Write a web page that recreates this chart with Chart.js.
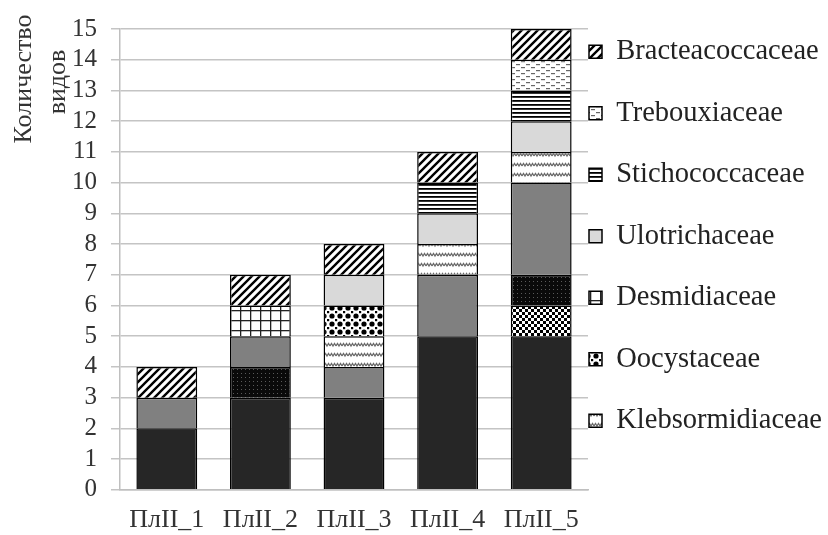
<!DOCTYPE html>
<html>
<head>
<meta charset="utf-8">
<script src="https://cdn.jsdelivr.net/npm/chart.js@4.4.1/dist/chart.umd.min.js"></script>
<style>
  html, body { margin: 0; padding: 0; background: #fff; }
  #wrap { width: 828px; height: 535px; }
</style>
</head>
<body>
<div id="wrap"><canvas id="c" width="828" height="535"></canvas></div>
<script>
// ---- Data ----
const categories = ['ПлII_1', 'ПлII_2', 'ПлII_3', 'ПлII_4', 'ПлII_5'];
const yTicks = [0,1,2,3,4,5,6,7,8,9,10,11,12,13,14,15];

// stacked bottom -> top
const chlamydomonadaceae = [2, 3, 3, 5, 5];   // dark (not shown in visible legend)
const chlorococcaceae    = [0, 0, 0, 0, 1];   // checker (not shown in visible legend)
const scenedesmaceae     = [0, 1, 0, 0, 1];   // dark dotted (not shown in visible legend)
const chlorellaceae      = [1, 1, 1, 2, 3];   // gray (not shown in visible legend)
const klebsormidiaceae   = [0, 0, 1, 1, 1];
const oocystaceae        = [0, 0, 1, 0, 0];
const desmidiaceae       = [0, 1, 0, 0, 0];
const ulotrichaceae      = [0, 0, 1, 1, 1];
const stichococcaceae    = [0, 0, 0, 1, 1];
const trebouxiaceae      = [0, 0, 0, 0, 1];
const bracteacoccaceae   = [1, 1, 1, 1, 1];

const visibleLegend = ['Bracteacoccaceae','Trebouxiaceae','Stichococcaceae','Ulotrichaceae','Desmidiaceae','Oocystaceae','Klebsormidiaceae'];

// ---- Patterns ----
const canvas = document.getElementById('c');
const mainCtx = canvas.getContext('2d');
function pat(w, h, draw) {
  const t = document.createElement('canvas');
  t.width = w; t.height = h;
  const g = t.getContext('2d');
  draw(g, w, h);
  return mainCtx.createPattern(t, 'repeat');
}
const pDiag = pat(8, 8, (g) => {
  g.fillStyle = '#fff'; g.fillRect(0, 0, 8, 8);
  g.strokeStyle = '#000'; g.lineWidth = 2.4; g.lineCap = 'square';
  g.beginPath();
  g.moveTo(-1, 9); g.lineTo(9, -1);
  g.moveTo(-5, 5); g.lineTo(5, -5);
  g.moveTo(3, 13); g.lineTo(13, 3);
  g.stroke();
});
const pGrid = pat(10, 10, (g) => {
  g.fillStyle = '#fff'; g.fillRect(0, 0, 10, 10);
  g.fillStyle = '#222';
  g.fillRect(0, 0, 10, 1.3);
  g.fillRect(0, 0, 1.3, 10);
});
const pDarkDots = pat(4, 4, (g) => {
  g.fillStyle = '#0a0a0a'; g.fillRect(0, 0, 4, 4);
  g.fillStyle = '#5a5a5a'; g.fillRect(1, 1, 1, 1);
});
const pBigDots = pat(8, 8, (g) => {
  g.fillStyle = '#fff'; g.fillRect(0, 0, 8, 8);
  g.fillStyle = '#000';
  g.beginPath(); g.arc(4, 4, 2.6, 0, Math.PI * 2); g.fill();
  g.fillRect(0, 0, 1.2, 1.2); g.fillRect(7, 7, 1, 1); g.fillRect(7, 0, 1, 1.2); g.fillRect(0, 7, 1.2, 1);
});
const pZig = pat(6, 10, (g) => {
  g.fillStyle = '#fff'; g.fillRect(0, 0, 6, 10);
  g.strokeStyle = '#6a6a6a'; g.lineWidth = 1.3;
  g.beginPath();
  g.moveTo(0, 6); g.lineTo(1.5, 3.5); g.lineTo(3, 6); g.lineTo(4.5, 3.5); g.lineTo(6, 6);
  g.stroke();
});
const pHoriz = pat(4, 4, (g) => {
  g.fillStyle = '#fff'; g.fillRect(0, 0, 4, 4);
  g.fillStyle = '#000'; g.fillRect(0, 0, 4, 1.8);
});
const pDash = pat(10, 6, (g) => {
  g.fillStyle = '#fff'; g.fillRect(0, 0, 10, 6);
  g.fillStyle = '#666';
  g.fillRect(1, 1, 4, 1.2);
  g.fillRect(6, 4, 4, 1.2);
});
const pChecker = pat(6, 6, (g) => {
  g.fillStyle = '#fff'; g.fillRect(0, 0, 6, 6);
  g.fillStyle = '#000';
  g.fillRect(0, 0, 3, 3); g.fillRect(3, 3, 3, 3);
});

const seriesDefs = [
  ['Chlamydomonadaceae', chlamydomonadaceae, '#262626'],
  ['Chlorococcaceae', chlorococcaceae, pChecker],
  ['Scenedesmaceae', scenedesmaceae, pDarkDots],
  ['Chlorellaceae', chlorellaceae, '#808080'],
  ['Klebsormidiaceae', klebsormidiaceae, pZig],
  ['Oocystaceae', oocystaceae, pBigDots],
  ['Desmidiaceae', desmidiaceae, pGrid],
  ['Ulotrichaceae', ulotrichaceae, '#d9d9d9'],
  ['Stichococcaceae', stichococcaceae, pHoriz],
  ['Trebouxiaceae', trebouxiaceae, pDash],
  ['Bracteacoccaceae', bracteacoccaceae, pDiag]
];

const datasets = seriesDefs.map(([label, data, bg]) => ({
  label, data,
  backgroundColor: bg,
  borderColor: '#000',
  borderWidth: 1.5,
  barPercentage: 0.65,
  categoryPercentage: 1.0
}));

const FONT = "'Liberation Serif', 'Times New Roman', serif";

const legendShift = {
  id: 'legendShift',
  afterLayout(chart) {
    const lg = chart.legend;
    if (!lg) return;
    lg.left -= 32;
    lg.top = 4.5;
    lg.bottom = 535;
    lg.right = 828;
  }
};

const yTitle = {
  id: 'yTitle',
  afterDraw(chart) {
    const ctx = chart.ctx;
    ctx.save();
    ctx.fillStyle = '#333';
    ctx.font = "26px " + FONT;
    ctx.textAlign = 'center';
    ctx.textBaseline = 'middle';
    ctx.translate(24, 79);
    ctx.rotate(-Math.PI / 2);
    ctx.fillText('Количество', 0, 0);
    ctx.restore();
    ctx.save();
    ctx.fillStyle = '#333';
    ctx.font = "26px " + FONT;
    ctx.textAlign = 'center';
    ctx.textBaseline = 'middle';
    ctx.translate(58, 82);
    ctx.rotate(-Math.PI / 2);
    ctx.fillText('видов', 0, 0);
    ctx.restore();
  }
};

new Chart(canvas, {
  type: 'bar',
  data: { labels: categories, datasets },
  plugins: [legendShift, yTitle],
  options: {
    responsive: false,
    animation: false,
    layout: { padding: { left: 72, top: 29, right: 0, bottom: -16 } },
    plugins: {
      tooltip: { enabled: false },
      legend: {
        position: 'right',
        align: 'start',
        reverse: true,
        maxWidth: 240,
        labels: {
          boxWidth: 13,
          boxHeight: 13,
          padding: 33,
          color: '#222',
          font: { family: FONT, size: 28.5 },
          filter: (item) => visibleLegend.includes(item.text)
        }
      }
    },
    scales: {
      x: {
        stacked: true,
        grid: { display: false, drawTicks: false },
        border: { display: true, color: '#bfbfbf', width: 1.5 },
        ticks: { color: '#333', font: { family: FONT, size: 26 }, padding: 15, maxRotation: 0 }
      },
      y: {
        stacked: true,
        min: 0, max: 15,
        afterBuildTicks: (scale) => { scale.ticks = yTicks.map(v => ({ value: v })); },
        afterFit: (scale) => { scale.width = 48; },
        grid: { color: '#c4c4c4', lineWidth: 1.5, tickLength: 9 },
        border: { display: true, color: '#bfbfbf', width: 1.5 },
        ticks: { color: '#333', font: { family: FONT, size: 25 }, padding: 14, autoSkip: false }
      }
    }
  }
});
</script>
</body>
</html>
